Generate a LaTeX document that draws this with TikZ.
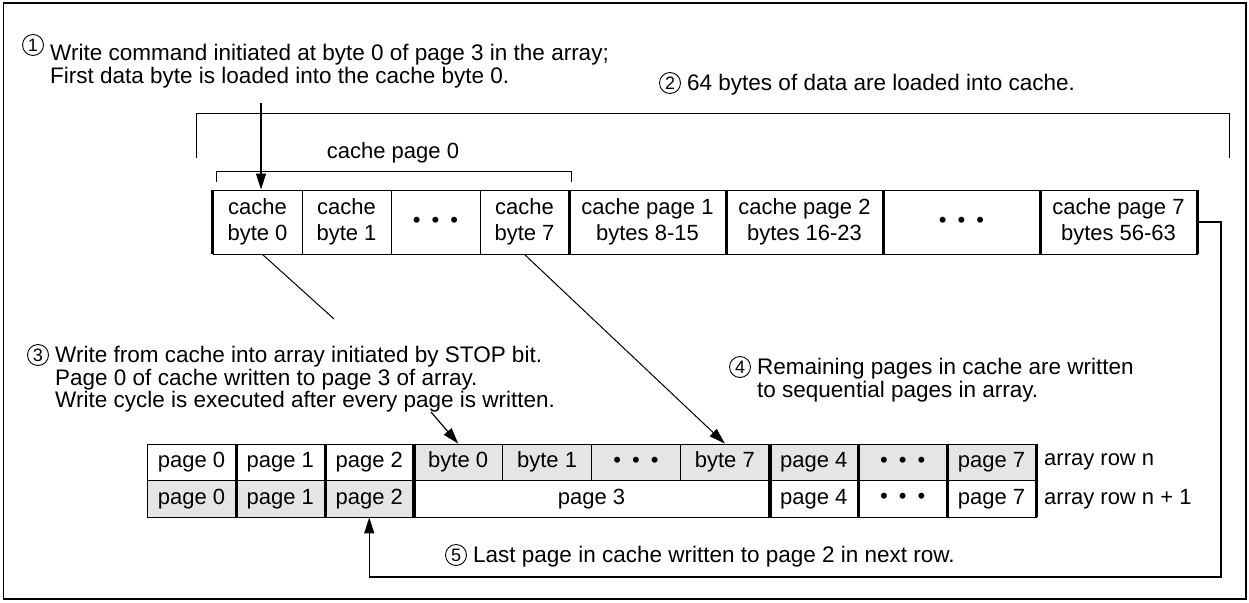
\documentclass[tikz,border=0pt]{standalone}
\usepackage{fontspec}
\setmainfont{Liberation Sans}
\usetikzlibrary{arrows.meta}
\newcommand\annfont{\fontsize{22.5}{22.5}\selectfont}
\newcommand\cellfont{\fontsize{22}{26.5}\selectfont}
\newcommand\tridot{•\hspace{11pt}•\hspace{11pt}•}
\begin{document}
\begin{tikzpicture}[x=1pt,y=-1pt,
  box/.style={draw, line width=0.9pt, inner sep=0pt, align=center, font=\cellfont},
  shaded/.style={fill=black!10},
  thickbar/.style={line width=3.5pt},
  num/.style={circle, draw, line width=0.9pt, inner sep=0pt, minimum size=21pt, font=\fontsize{18}{18}\selectfont},
  ann/.style={anchor=north west, inner sep=0pt, align=left, font=\annfont},
  conn/.style={line width=1pt},
  arr/.style={line width=1.2pt, -{Triangle[length=16pt,width=10pt]}},
  cw/.style={minimum width=89pt, minimum height=64pt},
  bw/.style={minimum width=157pt, minimum height=64pt},
  aw/.style={minimum width=88.9pt, minimum height=36.5pt}]
\useasboundingbox (0,0) rectangle (1249,602);
\draw[line width=1.5pt] (3.5,3) rectangle (1246,599);

% annotations
\node[num] (n1) at (33,45) {1};
\node[ann] (t1) at (50,44) {Write command initiated at byte 0 of page 3 in the array;\\First data byte is loaded into the cache byte 0.};
\node[num] (n2) at (670,83) {2};
\node[ann] (t2) at (687,74) {64 bytes of data are loaded into cache.};
\node[num] (n3) at (38,355) {3};
\node[ann] (t3) at (55,346) {Write from cache into array initiated by STOP bit.\\Page 0 of cache written to page 3 of array.\\Write cycle is executed after every page is written.};
\node[num] (n4) at (740,367) {4};
\node[ann] (t4) at (757,358) {Remaining pages in cache are written\\to sequential pages in array.};
\node[num] (n5) at (456,555) {5};
\node[ann] (t5) at (473,546) {Last page in cache written to page 2 in next row.};

% brackets
\draw[conn] (196,158) -- (196,113) -- (1229,113) -- (1229,158);
\draw[conn] (216,182) -- (216,171) -- (571,171) -- (571,182);
\node[font=\cellfont, anchor=base, inner sep=0pt] (cp0) at (393,158) {cache page 0};

% cache row
\node[box, cw] (c0) at (257.5,222) {cache\\byte 0};
\node[box, cw] (c1) at (346.5,222) {cache\\byte 1};
\node[box, cw] (c2) at (435.5,222) {\tridot};
\node[box, cw] (c3) at (524.5,222) {cache\\byte 7};
\node[box, bw] (p1) at (647.5,222) {cache page 1\\bytes 8-15};
\node[box, bw] (p2) at (804.5,222) {cache page 2\\bytes 16-23};
\node[box, bw] (p3) at (961.5,222) {\tridot};
\node[box, bw] (p7) at (1118.5,222) {cache page 7\\bytes 56-63};
\foreach \n in {c0} \draw[thickbar] (\n.north west) -- (\n.south west);
\foreach \n in {c3,p1,p2,p3,p7} \draw[thickbar] (\n.north east) -- (\n.south east);

% array rows
\node[box, aw] (a0) at (191.45,462.25) {page 0};
\node[box, aw] (a1) at (280.35,462.25) {page 1};
\node[box, aw] (a2) at (369.25,462.25) {page 2};
\node[box, aw, shaded] (a3) at (458.15,462.25) {byte 0};
\node[box, aw, shaded] (a4) at (547.05,462.25) {byte 1};
\node[box, aw, shaded] (a5) at (635.95,462.25) {\tridot};
\node[box, aw, shaded] (a6) at (724.85,462.25) {byte 7};
\node[box, aw, shaded] (a7) at (813.75,462.25) {page 4};
\node[box, aw, shaded] (a8) at (902.65,462.25) {\tridot};
\node[box, aw, shaded] (a9) at (991.55,462.25) {page 7};
\node[box, aw, shaded] (b0) at (191.45,498.75) {page 0};
\node[box, aw, shaded] (b1) at (280.35,498.75) {page 1};
\node[box, aw, shaded] (b2) at (369.25,498.75) {page 2};
\node[box, minimum width=355.6pt, minimum height=36.5pt] (b3) at (591.5,498.75) {page 3};
\node[box, aw] (b7) at (813.75,498.75) {page 4};
\node[box, aw] (b8) at (902.65,498.75) {\tridot};
\node[box, aw] (b9) at (991.55,498.75) {page 7};
\draw[thickbar] (a0.north east) -- (b0.south east);
\draw[thickbar] (a1.north east) -- (b1.south east);
\draw[thickbar] (a2.north east) -- (b2.south east);
\draw[thickbar] (a6.north east) -- (b3.south east);
\draw[thickbar] (a7.north east) -- (b7.south east);
\draw[thickbar] (a8.north east) -- (b8.south east);
\draw[thickbar] (a9.north east) -- (b9.south east);
\node[anchor=west, font=\cellfont, inner sep=0pt] (rn) at (1044,462.25) {array row n};
\node[anchor=west, font=\cellfont, inner sep=0pt] (rn1) at (1044,498.75) {array row n + 1};

% connectors
\coordinate (s1) at (261,103);
\draw[arr] (s1) -- (s1 |- c0.north);
\coordinate (e3) at (334,319);
\draw[conn] ([xshift=5pt]c0.south) -- (e3);
\draw[arr, line width=1pt] (c3.south) -- (a6.north);
\coordinate (s3) at (431,412);
\draw[arr] (s3) -- (a3.north);
\coordinate (k1) at (1221,577);
\draw[arr] (p7.east) -| (k1) -| (b2.south);
\end{tikzpicture}
\end{document}
